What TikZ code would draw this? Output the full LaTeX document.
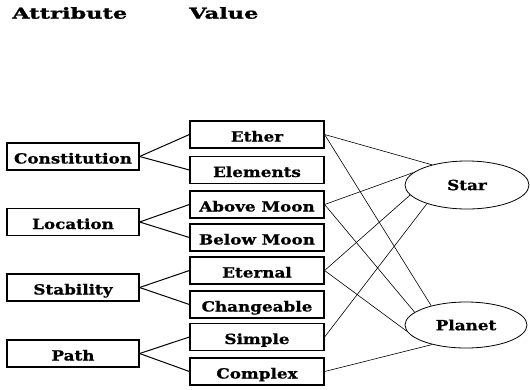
\documentclass[tikz,border=0pt]{standalone}
\usepackage{fontspec}
\setmainfont{DejaVu Serif}
\newfontfamily\widefont{DejaVu Serif Bold}[FakeStretch=1.2, FakeBold=0.8]
\newfontfamily\headwide{DejaVu Serif Bold}[FakeStretch=1.5, FakeBold=1.5]
\usepackage{tikz}
\usetikzlibrary{shapes}
\newcommand{\boxfont}{\widefont\fontsize{14}{16}\selectfont}
\newcommand{\headfont}{\headwide\fontsize{15}{17}\selectfont}
\tikzset{%
  attrbox/.style={draw, line width=1.2pt, minimum width=132pt,
    minimum height=27pt, inner sep=0pt,
    text height=14pt, text depth=0pt, font=\boxfont},
  valbox/.style={attrbox, minimum width=134pt},
  body/.style={ellipse, draw, line width=0.8pt, inner sep=0pt,
    font=\boxfont},
  lnk/.style={line width=1pt},
  thinlnk/.style={line width=0.6pt},
  header/.style={anchor=west, inner sep=0pt, font=\headfont}
}

\begin{document}
\begin{tikzpicture}[x=1pt,y=-1pt]
\useasboundingbox (0,0) rectangle (530,389);

% headers
\node[header] (hattr) at (12,13) {Attribute};
\node[header] (hval) at (189,13) {Value};

% attributes
\node[attrbox] (con)  at (73,156.5) {Constitution};
\node[attrbox] (loc)  at (73,222)   {Location};
\node[attrbox] (stab) at (73,287.5) {Stability};
\node[attrbox] (pth)  at (73,353.5) {Path};

% values
\node[valbox] (ether) at (257,134.5) {Ether};
\node[valbox] (elem)  at (257,170)   {Elements};
\node[valbox] (above) at (257,204.5) {Above Moon};
\node[valbox] (below) at (257,237.5) {Below Moon};
\node[valbox] (etern) at (257,270.5) {Eternal};
\node[valbox] (chg)   at (257,304.5) {Changeable};
\node[valbox] (simp)  at (257,337)   {Simple};
\node[valbox] (cplx)  at (257,371.5) {Complex};

% objects
\node[body, minimum width=124pt, minimum height=48pt] (star)   at (467,185) {Star};
\node[body, minimum width=122pt, minimum height=46pt] (planet) at (466,325) {Planet};

% attribute -> value
\foreach \a/\u/\v in {con/ether/elem, loc/above/below, stab/etern/chg, pth/simp/cplx} {
  \draw[lnk] (\a.east) -- (\u.west);
  \draw[lnk] (\a.east) -- (\v.west);
};

% value -> object
\draw[thinlnk] (ether.east) -- (star.150);
\draw[thinlnk] (ether.east) -- (planet.151);
\draw[thinlnk] (above.east) -- (star.167);
\draw[thinlnk] (above.east) -- (planet.166);
\draw[thinlnk] (etern.east) -- (star.190);
\draw[thinlnk] (etern.east) -- (planet.186);
\draw[thinlnk] (simp.east) -- (star.205);
\draw[thinlnk] (cplx.east) -- (planet.210);
\end{tikzpicture}
\end{document}
